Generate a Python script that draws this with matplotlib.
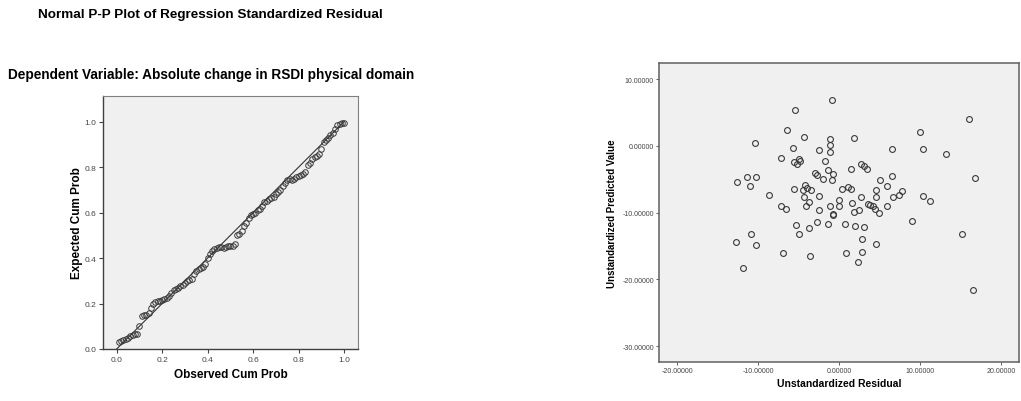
import numpy as np
import matplotlib.pyplot as plt

plt.rcParams['font.family'] = ['Liberation Sans', 'DejaVu Sans']

#%% Data

# Normal P-P plot: observed vs expected cumulative probability
obs_cum_prob = [0.01, 0.02, 0.03, 0.04, 0.05, 0.06, 0.07, 0.08, 0.09, 0.10,
                0.11, 0.12, 0.13, 0.14, 0.15, 0.16, 0.17, 0.18, 0.19, 0.20,
                0.21, 0.22, 0.23, 0.24, 0.25, 0.26, 0.27, 0.28, 0.29, 0.30,
                0.31, 0.32, 0.33, 0.34, 0.35, 0.36, 0.37, 0.38, 0.39, 0.40,
                0.41, 0.42, 0.43, 0.44, 0.45, 0.46, 0.47, 0.48, 0.49, 0.50,
                0.51, 0.52, 0.53, 0.54, 0.55, 0.56, 0.57, 0.58, 0.59, 0.60,
                0.61, 0.62, 0.63, 0.64, 0.65, 0.66, 0.67, 0.68, 0.69, 0.70,
                0.71, 0.72, 0.73, 0.74, 0.75, 0.76, 0.77, 0.78, 0.79, 0.80,
                0.81, 0.82, 0.83, 0.84, 0.85, 0.86, 0.87, 0.88, 0.89, 0.90,
                0.91, 0.92, 0.93, 0.94, 0.95, 0.96, 0.97, 0.98, 0.99, 1.00]
exp_cum_prob = [0.030, 0.035, 0.040, 0.045, 0.050, 0.055, 0.060, 0.065, 0.065, 0.100,
                0.145, 0.148, 0.150, 0.160, 0.180, 0.200, 0.205, 0.210, 0.210, 0.215,
                0.220, 0.225, 0.235, 0.245, 0.260, 0.265, 0.270, 0.275, 0.280, 0.290,
                0.300, 0.305, 0.310, 0.330, 0.345, 0.350, 0.355, 0.360, 0.375, 0.400,
                0.420, 0.430, 0.440, 0.445, 0.450, 0.450, 0.445, 0.450, 0.455, 0.455,
                0.455, 0.460, 0.500, 0.505, 0.520, 0.540, 0.555, 0.575, 0.590, 0.595,
                0.600, 0.610, 0.615, 0.630, 0.645, 0.650, 0.660, 0.665, 0.670, 0.680,
                0.690, 0.700, 0.715, 0.730, 0.745, 0.750, 0.745, 0.750, 0.755, 0.760,
                0.765, 0.770, 0.780, 0.810, 0.820, 0.835, 0.845, 0.850, 0.860, 0.880,
                0.910, 0.920, 0.930, 0.940, 0.950, 0.970, 0.985, 0.990, 0.995, 0.995]

# Residuals vs predicted values
resid = [-0.84, -5.40, -6.38, -4.29, -1.13, 1.87, 9.99, 16.02, -10.44, -1.13,
         -5.72, -2.44, 6.50, 10.40, -1.13, 13.23, -7.16, -4.98, -4.78, -5.52,
         -5.23, -1.70, 2.69, 3.10, 3.47, 1.42, -1.42, -0.80, -3.02, -2.77,
         -2.03, -0.88, -11.43, -10.32, -12.66, -10.97, 5.07, 6.54, 16.80, -8.72,
         -5.60, -4.16, -3.96, -3.47, -4.41, -4.37, -2.52, 0.31, 1.05, 1.46,
         2.69, 4.49, 5.89, 4.60, 6.67, 7.36, 7.77, 10.40, 11.22, -3.67,
         -4.04, -7.12, -6.54, -2.44, -1.13, 0.00, 0.00, 1.54, 2.48, 1.79,
         3.55, 3.84, 4.12, 4.45, 4.94, 5.89, -0.80, 9.00, -5.27, -2.69,
         -1.33, 0.68, 1.91, 3.02, -4.90, -3.67, -10.85, 15.20, -12.74, -10.28,
         2.81, 4.53, -6.99, -3.59, 0.84, 2.81, 2.32, -11.84, 16.47, -0.70]
predicted = [6.81, 5.36, 2.37, 1.27, 1.07, 1.12, 2.02, 3.97, 0.42, 0.07,
             -0.27, -0.57, -0.52, -0.42, -0.97, -1.27, -1.87, -1.97, -2.22, -2.47,
             -2.77, -2.32, -2.77, -3.07, -3.47, -3.42, -3.62, -4.21, -4.11, -4.36,
             -4.96, -5.16, -4.66, -4.71, -5.41, -6.06, -5.06, -4.56, -4.81, -7.36,
             -6.46, -5.86, -6.26, -6.66, -6.56, -7.66, -7.51, -6.41, -6.11, -6.41,
             -7.66, -6.56, -6.01, -7.60, -7.71, -7.41, -6.81, -7.46, -8.25, -8.45,
             -9.00, -8.95, -9.50, -9.60, -8.95, -9.05, -8.05, -8.55, -9.60, -9.90,
             -8.65, -8.80, -9.00, -9.50, -10.00, -8.95, -10.25, -11.20, -11.80, -11.40,
             -11.75, -11.75, -12.00, -12.10, -13.20, -12.35, -13.20, -13.20, -14.34, -14.79,
             -13.89, -14.64, -16.08, -16.53, -15.99, -15.94, -17.38, -18.28, -21.52, -10.30]

pp_ticks = [0.0, 0.2, 0.4, 0.6, 0.8, 1.0]
resid_ticks = [-20, -10, 0, 10, 20]
pred_ticks = [-30, -20, -10, 0, 10]

#%% Figure

fig = plt.figure(figsize=(10.21, 4.02), dpi=100)
bg = '#f0f0f0'

fig.text(0.037, 0.963, 'Normal P-P Plot of Regression Standardized Residual',
         fontsize=9.7, fontweight='bold', va='center', ha='left')
fig.text(0.008, 0.813, 'Dependent Variable: Absolute change in RSDI physical domain',
         fontsize=9.8, fontweight='bold', va='center', ha='left')

# left: P-P plot
ax1 = fig.add_axes([0.1009, 0.1294, 0.2497, 0.6293])
ax1.set_facecolor(bg)
ax1.plot([0, 1], [0, 1], '-', color='#333333', linewidth=0.8)
ax1.plot(obs_cum_prob, exp_cum_prob, 'o', markersize=4, markerfacecolor='none',
         markeredgecolor='#3a3a3a', markeredgewidth=0.7)
ax1.set_xlim(-0.06, 1.061)
ax1.set_ylim(0.0, 1.113)
ax1.set_xticks(pp_ticks)
ax1.set_yticks(pp_ticks)
ax1.set_xticklabels(['%.1f' % t for t in pp_ticks])
ax1.set_yticklabels(['%.1f' % t for t in pp_ticks])
ax1.tick_params(labelsize=6, colors='#444444', length=3, width=0.8, pad=2)
ax1.set_xlabel('Observed Cum Prob', fontsize=8.5, fontweight='bold', labelpad=4)
ax1.set_ylabel('Expected Cum Prob', fontsize=8.5, fontweight='bold', labelpad=1)
for s in ['top', 'right']:
    ax1.spines[s].set_color('#808080')
for s in ['left', 'bottom']:
    ax1.spines[s].set_color('#404040')
    ax1.spines[s].set_linewidth(1.0)

# right: residual scatter
ax2 = fig.add_axes([0.6454, 0.0978, 0.3526, 0.7422])
ax2.set_facecolor(bg)
ax2.plot(resid, predicted, 'o', markersize=4.2, markerfacecolor='none',
         markeredgecolor='#3a3a3a', markeredgewidth=0.8)
ax2.set_xlim(-22.25, 22.2)
ax2.set_ylim(-32.3, 12.35)
ax2.set_xticks(resid_ticks)
ax2.set_yticks(pred_ticks)
ax2.set_xticklabels(['%.5f' % t for t in resid_ticks])
ax2.set_yticklabels(['%.5f' % t for t in pred_ticks])
ax2.tick_params(labelsize=5, colors='#444444', length=2, width=0.6, pad=1.5)
ax2.set_xlabel('Unstandardized Residual', fontsize=7.5, fontweight='bold', labelpad=3)
ax2.set_ylabel('Unstandardized Predicted Value', fontsize=7, fontweight='bold', labelpad=4)
for s in ax2.spines.values():
    s.set_color('#606060')
    s.set_linewidth(1.1)

plt.savefig('out.png', dpi=100)
